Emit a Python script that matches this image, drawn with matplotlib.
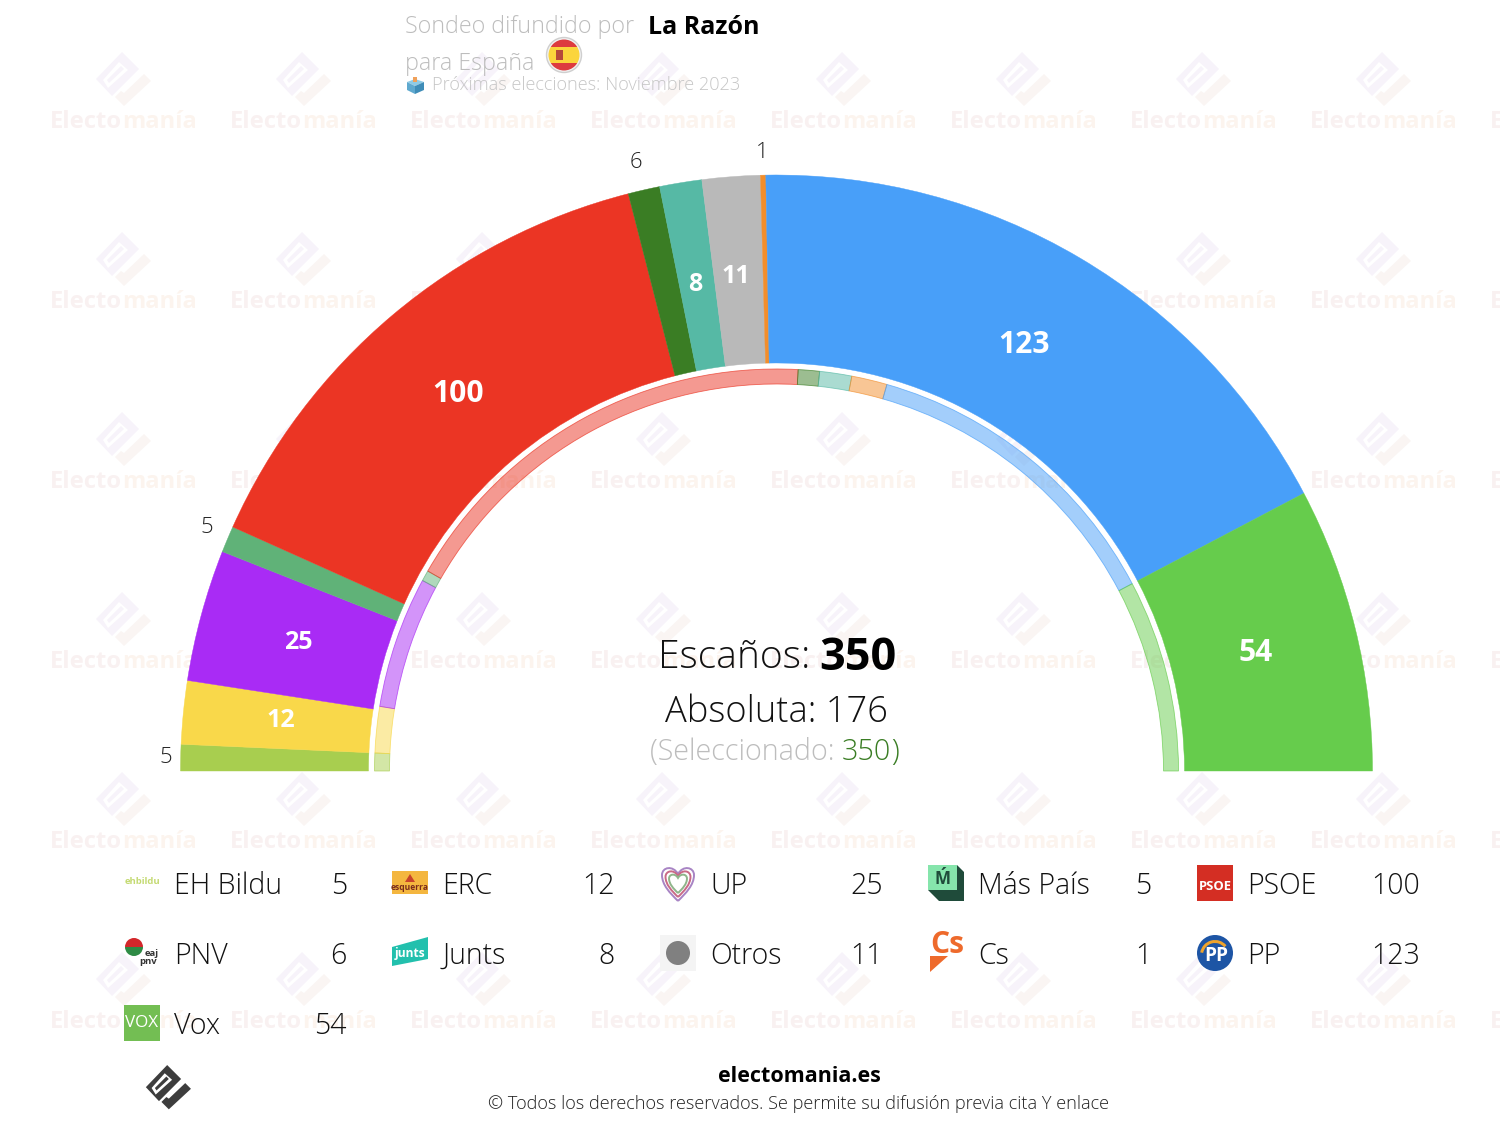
#plot.py
#hemiciclo sondeo La Razon, anillo interior = resultado anterior

import numpy as np
import matplotlib
matplotlib.use("Agg")
import matplotlib.pyplot as plt
from matplotlib.patches import Wedge, Circle, Rectangle, Polygon, PathPatch
from matplotlib.path import Path
from matplotlib.colors import to_rgba

parties = ["EH Bildu", "ERC", "UP", "Más País", "PSOE", "PNV", "Junts", "Otros", "Cs", "PP", "Vox"]
seats = [5, 12, 25, 5, 100, 6, 8, 11, 1, 123, 54]
prev_seats = [5, 13, 37, 3, 123, 6, 9, 0, 10, 90, 54]
colors = ["#A8CE4F", "#F9D84A", "#A92BF5", "#60B278", "#EB3524", "#3A7D24",
          "#56B9A5", "#B9B9B9", "#F28E2C", "#489FF9", "#66CC4C"]
inside_label = [False, True, True, False, True, False, True, True, False, True, True]
outside_r = {0: 611, 3: 620, 5: 627, 8: 621}
# ajustes finos de etiquetas (dx, dy)
nudge = {0: (0, 0), 1: (-1, -2), 2: (1.5, 2), 3: (1, -2), 4: (-1, 0), 5: (-1, 3),
         6: (-1, 4), 7: (-3, 1), 8: (0, 2), 9: (-3, -2), 10: (1, 0)}

title_a = "Sondeo difundido por"
title_b = "La Razón"
title_c = "para España"
subtitle = "Próximas elecciones: Noviembre 2023"
footer_a = "electomania.es"
footer_b = "© Todos los derechos reservados. Se permite su difusión previa cita Y enlace"

FONT = "Open Sans"
plt.rcParams["font.family"] = [FONT, "DejaVu Sans"]

CX, CY = 776.5, 771
R_OUT, R_IN = 596, 408
RING_OUT, RING_IN = 402, 387
K = 180.0 / sum(seats)

fig = plt.figure(figsize=(15, 11.32), dpi=100)
ax = fig.add_axes([0, 0, 1, 1])
ax.set_xlim(0, 1500)
ax.set_ylim(1132, 0)  # pixeles, y hacia abajo
ax.axis("off")


def pt(px):
    return px * 0.72


def txt(x, y, s, px, **kw):
    kw.setdefault("va", "center")
    kw.setdefault("color", "black")
    kw.setdefault("weight", "light")
    return ax.text(x, y + 2, s, fontsize=pt(px), **kw)


def txt_end(t):
    bb = t.get_window_extent(fig.canvas.get_renderer())
    return bb.x1 * 1500 / fig.bbox.width


def poly(pts, color, zorder=1, **kw):
    ax.add_patch(Polygon(pts, closed=True, facecolor=color, edgecolor="none", zorder=zorder, **kw))


def logo(cx, cy, s, c1, c2, hole, zorder):
    # rombo con ranura y marca de check
    def P(pts):
        return [(cx + s * a, cy + s * b) for a, b in pts]
    poly(P([(-1, -28), (16, -11), (-11, 16), (-27, -1)]), c1, zorder)
    poly(P([(-4, -18), (5, -10), (-15, 8), (-20, 0)]), hole, zorder)
    poly(P([(-2, -14), (1, -11), (-14, 3), (-16, 0)]), c1, zorder)
    poly(P([(-8, 17), (1, 26), (28, 1), (21, -6), (1, 13), (-2, 11)]), c2, zorder)


# marca de agua
for wy in range(120, 1100, 180):
    for wx in range(123, 1600, 180):
        logo(wx, wy - 40, 1.0, "#F7F3FA", "#FAF5F3", "#FFFFFF", 0)
        t = txt(wx - 73, wy, "Electo", 23.8, weight="bold", color="#F9F1F1", zorder=0)
        txt(txt_end(t), wy, "manía", 23.8, weight="bold", color="#FCF4EE", zorder=0)

# anillo exterior
edges = np.cumsum([0] + seats)
for i, v in enumerate(seats):
    t1, t2 = 180 + edges[i] * K, 180 + edges[i + 1] * K
    ax.add_patch(Wedge((CX, CY), R_OUT, t1, t2, width=R_OUT - R_IN,
                       facecolor=colors[i], edgecolor=colors[i], lw=0.3, zorder=2))
    mid = np.radians((t1 + t2) / 2)
    dx, dy = nudge[i]
    if inside_label[i]:
        big = v >= 50
        r = 493 if big else 497
        txt(CX + r * np.cos(mid) + dx, CY + r * np.sin(mid) - 2 + dy, str(v), 30 if big else 25,
            color="white", weight="bold", ha="center", zorder=4)
    else:
        r = outside_r[i]
        txt(CX + r * np.cos(mid) + dx, CY + r * np.sin(mid) - 2 + dy, str(v), 22, ha="center", zorder=4, color="#222222")

# anillo interior
edges = np.cumsum([0] + prev_seats)
for i, v in enumerate(prev_seats):
    if v == 0:
        continue
    t1, t2 = 180 + edges[i] * K, 180 + edges[i + 1] * K
    ax.add_patch(Wedge((CX, CY), RING_OUT, t1, t2, width=RING_OUT - RING_IN,
                       facecolor=to_rgba(colors[i], 0.5), edgecolor=to_rgba(colors[i], 0.7), lw=0.6, zorder=2))

# titulos
txt(405, 25, title_a, 23.3, color="#BDBDBD", zorder=4)
txt(648, 25, title_b, 25, weight="bold", zorder=4)
txt(405, 62, title_c, 23.3, color="#BDBDBD", zorder=4)
txt(432, 83, subtitle, 18.1, color="#C6C6C6", zorder=4)

# bandera
ax.add_patch(Circle((564, 55), 17.5, facecolor="#F2F2F2", edgecolor="#CFCFCF", lw=1, zorder=3))
c = Circle((564, 55), 15.5, transform=ax.transData)
for yy, hh, col in [(39, 8, "#DD3B3F"), (47, 16, "#FBD53C"), (63, 8, "#DD3B3F")]:
    r = Rectangle((548, yy), 32, hh, facecolor=col, edgecolor="none", zorder=3)
    ax.add_patch(r)
    r.set_clip_path(c)
ax.add_patch(Rectangle((556, 50), 7, 10, facecolor="#B5493A", edgecolor="none", zorder=3))

# urna
poly([(407, 82), (415, 79), (424, 82), (415, 86)], "#8FCBE6", 3)
poly([(407, 82), (415, 86), (415, 94), (407, 90)], "#5FA9CF", 3)
poly([(424, 82), (415, 86), (415, 94), (424, 90)], "#3F8DB8", 3)
ax.add_patch(Rectangle((413, 77), 4, 5, facecolor="#F0A15B", edgecolor="none", zorder=3))

# centro
txt(658, 656, "Escaños:", 39, ha="left", color="#111111", zorder=4)
txt(819, 656, "350", 45, weight="bold", zorder=4)
txt(776, 711, "Absoluta: 176", 36.2, ha="center", color="#111111", zorder=4)
t = txt(650, 750, "(Seleccionado: ", 28.7, color="#BDBDBD", zorder=4)
t = txt(txt_end(t), 750, "350", 28.7, color="#3A7D24", zorder=4)
txt(txt_end(t), 750, ")", 28.7, color="#3A7D24", zorder=4)


# iconos de la leyenda, dibujados a mano
def icon_bildu(x, y):
    txt(x, y - 4, "ehbildu", 9.5, ha="center", color="#C4DA72", weight="bold", zorder=3)


def icon_erc(x, y):
    ax.add_patch(Rectangle((x - 18, y - 12), 36, 23, facecolor="#F4B63F", edgecolor="none", zorder=3))
    txt(x, y + 2, "esquerra", 8.5, ha="center", color="#7A2C1C", weight="bold", zorder=4)
    poly([(x - 5, y - 1), (x, y - 9), (x + 5, y - 1)], "#C8432A", 4)


def heart_path(x, y, s):
    v = [(0, 18), (-8, 10), (-16, 2), (-16, -8), (-16, -16), (-5, -18), (0, -9),
         (5, -18), (16, -16), (16, -8), (16, 2), (8, 10), (0, 18)]
    code = [Path.MOVETO] + [Path.CURVE4] * 12
    return Path([(x + s * a, y + s * b) for a, b in v], code)


def icon_up(x, y):
    for s, col in [(1.0, "#A884C4"), (0.78, "#C96A86"), (0.56, "#8FB58A")]:
        ax.add_patch(PathPatch(heart_path(x, y, s), facecolor="none", edgecolor=col, lw=1.4, zorder=3))


def icon_mas(x, y):
    poly([(x - 18, y + 7), (x - 7, y + 18), (x + 18, y + 18), (x + 18, y - 11), (x + 11, y - 18), (x + 11, y + 7)], "#1F4B3A", 3)
    ax.add_patch(Rectangle((x - 18, y - 18), 29, 25, facecolor="#86E5AC", edgecolor="none", zorder=3))
    txt(x - 3, y - 6, "Ḿ", 17, ha="center", color="#1F4B3A", weight="bold", zorder=4)


def icon_psoe(x, y):
    ax.add_patch(Rectangle((x - 18, y - 18), 36, 36, facecolor="#D42E23", edgecolor="none", zorder=3))
    txt(x, y + 2, "PSOE", 13, ha="center", color="white", weight="bold", zorder=4)


def icon_pnv(x, y):
    ax.add_patch(Wedge((x - 8, y - 6), 9, 180, 360, facecolor="#D3272B", edgecolor="none", zorder=3))
    ax.add_patch(Wedge((x - 8, y - 6), 9, 0, 180, facecolor="#2E8B45", edgecolor="none", zorder=3))
    txt(x + 10, y - 1, "eaj", 9.5, ha="center", color="#333333", weight="bold", zorder=4)
    txt(x + 6, y + 6, "pnv", 9.5, ha="center", color="#333333", weight="bold", zorder=4)


def icon_junts(x, y):
    poly([(x - 18, y - 6), (x + 18, y - 16), (x + 18, y + 6), (x - 18, y + 13)], "#22C0AD", 3)
    txt(x, y - 2, "junts", 12, ha="center", color="white", weight="bold", zorder=4)


def icon_otros(x, y):
    ax.add_patch(Rectangle((x - 18, y - 18), 36, 36, facecolor="#F4F4F4", edgecolor="none", zorder=3))
    ax.add_patch(Circle((x, y), 12, facecolor="#808080", edgecolor="none", zorder=4))


def icon_cs(x, y):
    txt(x + 1, y - 10, "Cs", 30, ha="center", color="#EE6A2C", weight="bold", zorder=4)
    poly([(x - 16, y + 3), (x + 2, y + 3), (x - 16, y + 19)], "#EE6A2C", 3)


def icon_pp(x, y):
    ax.add_patch(Circle((x, y), 18, facecolor="#1D55A5", edgecolor="none", zorder=3))
    ax.add_patch(Wedge((x, y + 2), 15, 190, 320, width=3, facecolor="#F0A42B", edgecolor="none", zorder=4))
    txt(x + 1, y + 1, "PP", 19, ha="center", color="white", weight="bold", zorder=5)


def icon_vox(x, y):
    ax.add_patch(Rectangle((x - 18, y - 18), 36, 36, facecolor="#73BE53", edgecolor="none", zorder=3))
    txt(x, y - 2, "VOX", 17, ha="center", color="white", weight="normal", zorder=4)


icons = [icon_bildu, icon_erc, icon_up, icon_mas, icon_psoe, icon_pnv, icon_junts,
         icon_otros, icon_cs, icon_pp, icon_vox]
col_x = [142, 410, 678, 946, 1215]
row_y = [883, 953, 1023]
for i, name in enumerate(parties):
    x, y = col_x[i % 5], row_y[i // 5]
    icons[i](x, y)
    txt(x + 32.5, y + 1, name, 28.5, color="#111111", zorder=4)
    txt(x + 205, y + 1, str(seats[i]), 28.5, ha="right", color="#111111", zorder=4)

# pie
logo(168, 1088, 0.82, "#3D3D3D", "#3D3D3D", "#FFFFFF", 3)
txt(799, 1075, footer_a, 21.5, ha="center", weight="bold", zorder=4)
txt(798, 1102, footer_b, 18.08, ha="center", color="#222222", zorder=4)

fig.savefig("out.png", dpi=100)
